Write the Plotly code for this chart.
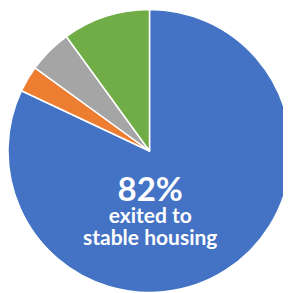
import plotly.graph_objects as go

labels = ["Exited to stable housing", "Other A", "Other B", "Other C"]
values = [82, 3, 5, 10]
colors = ["#4472C4", "#ED7D31", "#A5A5A5", "#70AD47"]
center_value = "82%"
center_lines = ["exited to", "stable housing"]

# page body has an 8px default margin, so the figure is drawn from (8,8)
OFF = 8
W, H = 291 - OFF, 293 - OFF
ml, mr, mt, mb = 0, 0, 1, 0
ph = H - mt - mb

def py(y):
    # y in page pixels -> paper coordinate
    return (H - mb - (y - OFF)) / ph

fig = go.Figure(go.Pie(
    labels=labels, values=values, sort=False, direction="clockwise", rotation=0,
    marker=dict(colors=colors, line=dict(color="white", width=1.5)),
    textinfo="none", hoverinfo="label+percent", showlegend=False,
))

font = "Lato, 'Open Sans', sans-serif"
text = ("<b><span style='font-size:33px'>" + center_value + "</span></b><br>"
        + "<br>".join("<b><span style='font-size:21px'>" + s + "</span></b>" for s in center_lines))
fig.add_annotation(x=0.5, y=py(208), xref="paper", yref="paper", text=text,
                   showarrow=False, font=dict(family=font, size=17, color="white"),
                   yanchor="middle", align="center")

fig.update_layout(width=W, height=H, margin=dict(l=ml, r=mr, t=mt, b=mb),
                  paper_bgcolor="white", plot_bgcolor="white")
fig.write_html("out.html")
